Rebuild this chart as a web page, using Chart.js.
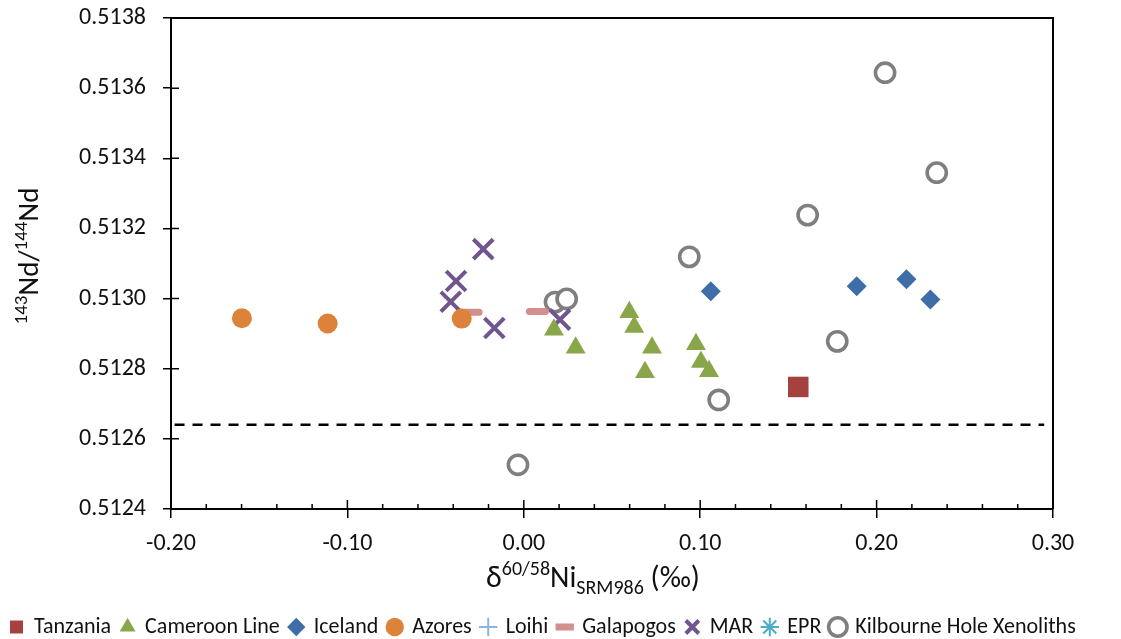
<!DOCTYPE html>
<html lang="en">
<head>
  <meta charset="UTF-8" />
  <title>Nd vs Ni isotopes</title>
  <script src="https://cdn.jsdelivr.net/npm/chart.js"></script>
  <style>
    body { margin: 0; background: #fff; }
    .wrap { width: 1121px; height: 639px; position: relative; }
  </style>
</head>
<body>
  <div class="wrap"><canvas id="ndChart"></canvas></div>

  <script>
    // series values (x = d60/58Ni, y = 143Nd/144Nd)
    const tanzaniaX = [0.1556];
    const tanzaniaY = [0.512748];

    const cameroonX = [0.0598, 0.0626, 0.0171, 0.0294, 0.0727, 0.0687, 0.0976, 0.1004, 0.1050];
    const cameroonY = [0.512961, 0.512919, 0.512911, 0.512860, 0.512860, 0.512790, 0.512870, 0.512819, 0.512793];

    const icelandX = [0.1060, 0.1887, 0.2169, 0.2305];
    const icelandY = [0.513021, 0.513035, 0.513055, 0.512997];

    const azoresX = [-0.1598, -0.1112, -0.0352];
    const azoresY = [0.512944, 0.512929, 0.512943];

    const loihiX = [];
    const loihiY = [];

    const galapagosX = [-0.0299, 0.0077];
    const galapagosY = [0.512961, 0.512963];

    const marX = [-0.0230, -0.0384, -0.0414, -0.0167, 0.0205];
    const marY = [0.513141, 0.513050, 0.512991, 0.512916, 0.512940];

    const eprX = [];
    const eprY = [];

    const kilbourneX = [0.0177, 0.0243, 0.0938, 0.1105, 0.2048, 0.2341, 0.1609, 0.1777, -0.0033];
    const kilbourneY = [0.512990, 0.512999, 0.513119, 0.512711, 0.513644, 0.513359, 0.513238, 0.512878, 0.512526];

    // dashed reference line
    const refLineX = [-0.198, 0.295];
    const refLineY = [0.51264, 0.51264];

    // axis ranges / ticks
    const xMin = -0.20, xMax = 0.30, xStep = 0.10, xMinorStep = 0.02;
    const yMin = 0.5124, yMax = 0.5138, yStep = 0.0002;

    const FONT = "Carlito, Lato, 'Open Sans', sans-serif";

    function pts(xs, ys) {
      return xs.map((x, i) => ({ x: x, y: ys[i] }));
    }

    function series(label, xs, ys, style) {
      return Object.assign({
        label: label,
        data: pts(xs, ys),
        showLine: false
      }, style);
    }

    const datasets = [
      series('Tanzania', tanzaniaX, tanzaniaY, {
        pointStyle: 'rect', pointRadius: 14.5, borderWidth: 0,
        backgroundColor: '#A5413F', borderColor: '#A5413F'
      }),
      series('Cameroon Line', cameroonX, cameroonY, {
        pointStyle: 'triangle', pointRadius: 11.5, borderWidth: 0,
        backgroundColor: '#8AA64B', borderColor: '#8AA64B'
      }),
      series('Iceland', icelandX, icelandY, {
        pointStyle: 'rectRot', pointRadius: 10, borderWidth: 0,
        backgroundColor: '#3F6DA8', borderColor: '#3F6DA8'
      }),
      series('Azores', azoresX, azoresY, {
        pointStyle: 'circle', pointRadius: 10, borderWidth: 0,
        backgroundColor: '#DD823B', borderColor: '#DD823B'
      }),
      series('Loihi', loihiX, loihiY, {
        pointStyle: 'cross', pointRadius: 8, borderWidth: 2,
        backgroundColor: '#8DB3E2', borderColor: '#8DB3E2'
      }),
      series('Galapogos', galapagosX, galapagosY, {
        pointStyle: 'line', pointRadius: 8, borderWidth: 7,
        backgroundColor: '#D38E8E', borderColor: '#D38E8E'
      }),
      series('MAR', marX, marY, {
        pointStyle: 'crossRot', pointRadius: 14, borderWidth: 4,
        backgroundColor: '#71558F', borderColor: '#71558F'
      }),
      series('EPR', eprX, eprY, {
        pointStyle: 'star', pointRadius: 8, borderWidth: 2,
        backgroundColor: '#4BACC6', borderColor: '#4BACC6'
      }),
      series('Kilbourne Hole Xenoliths', kilbourneX, kilbourneY, {
        pointStyle: 'circle', pointRadius: 9.6, borderWidth: 3.6,
        backgroundColor: '#FFFFFF', borderColor: '#7F7F7F'
      }),
      {
        label: 'ref',
        data: pts(refLineX, refLineY),
        showLine: true,
        pointRadius: 0,
        borderColor: '#000',
        borderWidth: 2.5,
        borderDash: [10, 8]
      }
    ];

    // round ends on the Galapagos dashes
    const roundCaps = {
      id: 'roundCaps',
      beforeDatasetDraw(chart, args) {
        chart.ctx.save();
        if (chart.data.datasets[args.index].pointStyle === 'line') chart.ctx.lineCap = 'round';
      },
      afterDatasetDraw(chart) {
        chart.ctx.restore();
      }
    };

    // frame, inside ticks and the axis titles with super/subscripts
    function drawRich(ctx, parts, x, y) {
      parts.forEach(p => {
        ctx.font = p.size + 'px ' + FONT;
        ctx.fillText(p.t, x, y + (p.dy || 0));
        x += ctx.measureText(p.t).width;
      });
    }
    function richWidth(ctx, parts) {
      return parts.reduce((w, p) => {
        ctx.font = p.size + 'px ' + FONT;
        return w + ctx.measureText(p.t).width;
      }, 0);
    }

    const frameAndTitles = {
      id: 'frameAndTitles',
      afterDraw(chart) {
        const { ctx, chartArea: a, scales } = chart;
        const xs = scales.x, ys = scales.y;
        ctx.save();
        ctx.strokeStyle = '#000';
        ctx.lineWidth = 2;
        ctx.beginPath();
        ctx.moveTo(a.left, a.top);
        ctx.lineTo(a.right, a.top);
        ctx.lineTo(a.right, a.bottom);
        ctx.stroke();

        ctx.lineWidth = 1.5;
        ctx.beginPath();
        const n = Math.round((xMax - xMin) / xMinorStep);
        for (let i = 0; i <= n; i++) {
          const px = xs.getPixelForValue(xMin + i * xMinorStep);
          const len = (i % 5 === 0) ? 9 : 5;
          ctx.moveTo(px, a.bottom);
          ctx.lineTo(px, a.bottom - len);
        }
        ys.ticks.forEach(t => {
          const py = ys.getPixelForValue(t.value);
          ctx.moveTo(a.left, py);
          ctx.lineTo(a.left + 8, py);
        });
        ctx.stroke();

        ctx.fillStyle = '#111';
        ctx.textBaseline = 'alphabetic';
        ctx.textAlign = 'left';
        const xTitle = [
          { t: 'δ', size: 30 },
          { t: '60/58', size: 20, dy: -12 },
          { t: 'Ni', size: 30 },
          { t: 'SRM986', size: 20, dy: 7 },
          { t: ' (‰)', size: 30 }
        ];
        const xw = richWidth(ctx, xTitle);
        drawRich(ctx, xTitle, (a.left + a.right) / 2 - 19 - xw / 2, 587);

        const yTitle = [
          { t: '143', size: 19, dy: -11 },
          { t: 'Nd/', size: 29 },
          { t: '144', size: 19, dy: -11 },
          { t: 'Nd', size: 29 }
        ];
        const yw = richWidth(ctx, yTitle);
        ctx.translate(38, 256);
        ctx.rotate(-Math.PI / 2);
        drawRich(ctx, yTitle, -yw / 2, 0);
        ctx.restore();
      }
    };

    const ctx = document.getElementById('ndChart').getContext('2d');
    const ndChart = new Chart(ctx, {
      type: 'scatter',
      data: { datasets: datasets },
      plugins: [roundCaps, frameAndTitles],
      options: {
        responsive: true,
        maintainAspectRatio: false,
        animation: false,
        layout: { padding: { left: 0, right: 0, top: 18, bottom: -9 } },
        plugins: {
          tooltip: { enabled: false },
          legend: {
            position: 'bottom',
            align: 'start',
            labels: {
              usePointStyle: true,
              boxWidth: 13,
              boxHeight: 13,
              padding: 10,
              color: '#111',
              font: { family: FONT, size: 22 },
              filter: item => item.text !== 'ref'
            }
          }
        },
        scales: {
          x: {
            type: 'linear',
            min: xMin,
            max: xMax,
            afterFit: s => { s.height = 97; },
            border: { color: '#000', width: 2 },
            grid: { drawOnChartArea: false, drawTicks: true, tickLength: 9, color: '#000', lineWidth: 1.5 },
            ticks: {
              stepSize: xStep,
              padding: 12,
              color: '#111',
              font: { family: FONT, size: 24 },
              callback: v => v.toFixed(2)
            }
          },
          y: {
            type: 'linear',
            min: yMin,
            max: yMax,
            afterFit: s => { s.width = 171; s.paddingTop = 0; s.paddingBottom = 0; },
            border: { color: '#000', width: 2 },
            grid: { drawOnChartArea: false, drawTicks: true, tickLength: 8, color: '#000', lineWidth: 1.5 },
            ticks: {
              stepSize: yStep,
              padding: 17,
              color: '#111',
              font: { family: FONT, size: 24 },
              callback: v => v.toFixed(4)
            }
          },
          // empty right-hand axis, only reserves the margin right of the plot
          yRight: {
            type: 'linear',
            position: 'right',
            afterFit: s => { s.width = 68; s.paddingTop = 0; s.paddingBottom = 0; },
            border: { display: false },
            grid: { display: false },
            ticks: { display: false }
          }
        }
      }
    });
  </script>
</body>
</html>
